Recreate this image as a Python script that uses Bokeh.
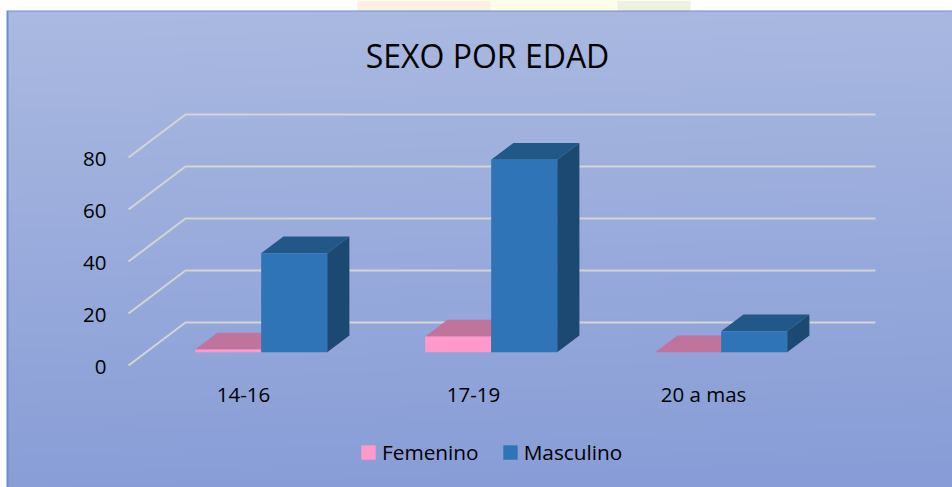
import numpy as np
from bokeh.embed import file_html
from bokeh.models import FixedTicker, Label, Legend, LegendItem, Range1d
from bokeh.plotting import figure
from bokeh.resources import INLINE

# ---- data ----
categories = ["14-16", "17-19", "20 a mas"]
femenino = [1, 6, 0]
masculino = [38, 74, 8]
value_ticks = [0, 20, 40, 60, 80]

# ---- layout ----
FONT = "Open Sans"
W, H = 952, 487
PX_X = 230.0          # pixels per category
PX_Y = 2.6            # pixels per value unit
ORIGIN_X, ORIGIN_Y = 128, 365   # floor front-left corner, in frame pixels
DX = 57 / PX_X        # floor depth, in category units
DY = 43 / PX_Y        # floor depth, in value units
T0, T1 = 0.31, 0.70   # depth span occupied by bars
BAR_W = 66 / PX_X

x_range = Range1d(-ORIGIN_X / PX_X, (W - ORIGIN_X) / PX_X)
y_range = Range1d(-(H - ORIGIN_Y) / PX_Y, ORIGIN_Y / PX_Y)

p = figure(width=W, height=H, x_range=x_range, y_range=y_range,
           output_backend="svg", toolbar_location=None, min_border=0,
           outline_line_color=None, background_fill_color="#ffffff",
           border_fill_color="#ffffff")
p.grid.visible = False
# same scale as the values, moved down slightly for the value labels only
p.extra_y_ranges = {"labels": Range1d(y_range.start + 1.5 / PX_Y, y_range.end + 1.5 / PX_Y)}

# background gradient
top_c = np.array([170, 185, 225.0])
bot_c = np.array([136, 157, 215.0])
yy, xx = np.mgrid[0:H, 0:W]
f = np.clip((yy - 10) / (H - 10) + (xx / W - 0.5) * 0.06, 0, 1)[..., None]
rgb = top_c * (1 - f) + bot_c * f
img = np.dstack([rgb, np.full((H, W), 255.0)]).astype(np.uint8)
img[:10, :] = [255, 255, 255, 255]
img[:10, 357:490] = [253, 240, 225, 255]
img[:10, 490:617] = [254, 253, 230, 255]
img[:10, 617:690] = [240, 240, 224, 255]
img[:, :6] = [255, 255, 255, 255]
img[10, 6:] = [108, 142, 216, 255]
img[10:, 6:8] = [108, 142, 216, 255]
img = img[::-1]
p.image_rgba(image=[img.view(np.uint32).reshape(H, W)],
             x=x_range.start, y=y_range.start,
             dw=x_range.end - x_range.start, dh=y_range.end - y_range.start)

# walls / gridlines
n = len(categories)
p.multi_line(xs=[[0, DX, n + DX] for _ in value_ticks],
             ys=[[v, v + DY, v + DY] for v in value_ticks],
             line_color="#d4d4d4", line_width=2)


def boxes(values, offset):
    """Faces of the 3D bars: offset is the left edge relative to the category centre."""
    fx, fy, tx, ty, sx, sy = [], [], [], [], [], []
    for i, v in enumerate(values):
        l = i + 0.5 + offset + T0 * DX
        r = l + BAR_W
        b = T0 * DY
        t = b + v
        ddx, ddy = (T1 - T0) * DX, (T1 - T0) * DY
        fx.append([l, r, r, l]); fy.append([b, b, t, t])
        tx.append([l, r, r + ddx, l + ddx]); ty.append([t, t, t + ddy, t + ddy])
        sx.append([r, r + ddx, r + ddx, r]); sy.append([b, b + ddy, t + ddy, t])
    return fx, fy, tx, ty, sx, sy


fx, fy, tx, ty, sx, sy = boxes(femenino, -BAR_W)
p.patches(sx, sy, fill_color="#b5618c", line_color=None)
p.patches(tx, ty, fill_color="#c0739b", line_color=None)
r_fem = p.patches(fx, fy, fill_color="#ff99cc", line_color=None)

fx, fy, tx, ty, sx, sy = boxes(masculino, 0)
p.patches(tx, ty, fill_color="#215888", line_color=None)
p.patches(sx, sy, fill_color="#1c4971", line_color=None)
r_mas = p.patches(fx, fy, fill_color="#2e74b7", line_color=None)

# axes drawn inside the frame
ya = p.yaxis[0]
ya.y_range_name = "labels"
ya.ticker = FixedTicker(ticks=value_ticks)
ya.fixed_location = (117 - ORIGIN_X) / PX_X
ya.axis_line_color = None
ya.major_tick_line_color = None
ya.minor_tick_line_color = None
ya.major_label_standoff = 5
ya.major_label_text_font = FONT
ya.major_label_text_font_size = "20.5px"
ya.major_label_text_color = "#000000"

xa = p.xaxis[0]
xa.ticker = FixedTicker(ticks=[i + 0.5 for i in range(n)])
xa.major_label_overrides = {i + 0.5: c for i, c in enumerate(categories)}
xa.fixed_location = -(373 - 365) / PX_Y
xa.axis_line_color = None
xa.major_tick_line_color = None
xa.minor_tick_line_color = None
xa.major_label_standoff = 0
xa.major_label_text_font = FONT
xa.major_label_text_font_size = "20.5px"
xa.major_label_text_color = "#000000"

# title
p.add_layout(Label(x=487, y=H - 55, x_units="screen", y_units="screen",
                   text="SEXO POR EDAD", text_font=FONT, text_font_size="32px",
                   text_color="#000000", text_align="center", text_baseline="middle"))

# legend
legend = Legend(items=[LegendItem(label="Femenino", renderers=[r_fem]),
                       LegendItem(label="Masculino", renderers=[r_mas])],
                orientation="horizontal", location=(359, H - 466),
                glyph_width=18, glyph_height=18, label_standoff=5, spacing=22,
                padding=0, margin=0, background_fill_alpha=0, border_line_alpha=0,
                label_text_font=FONT, label_text_font_size="20.8px",
                label_text_color="#000000", label_height=18)
p.add_layout(legend)

open("out.html", "w").write(file_html(p, INLINE))
